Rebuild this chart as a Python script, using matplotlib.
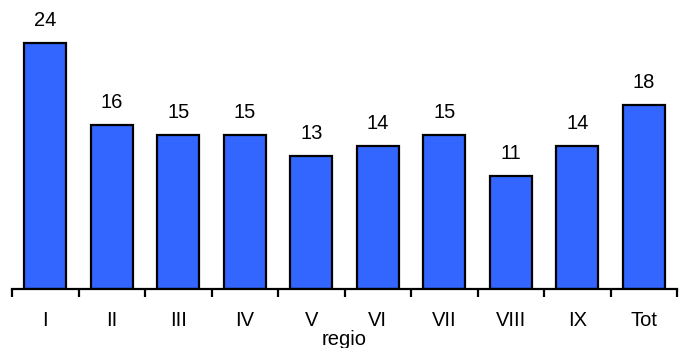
import matplotlib
matplotlib.use("Agg")
import matplotlib.pyplot as plt
import numpy as np

categories = ["I", "II", "III", "IV", "V", "VI", "VII", "VIII", "IX", "Tot"]
values = [24, 16, 15, 15, 13, 14, 15, 11, 14, 18]

plt.rcParams["font.family"] = ["Liberation Sans", "DejaVu Sans"]
FS = 14.5

fig = plt.figure(figsize=(6.86, 3.48), dpi=100)
ax = fig.add_axes([12 / 686, 59 / 348, 665 / 686, 289 / 348])

x = np.arange(len(categories))
ax.bar(x, values, width=0.63, color="#3366FF", edgecolor="black", linewidth=1.6, zorder=2)

for xi, v in zip(x, values):
    ax.text(xi, v + 1.65, f"{v}", ha="center", va="baseline", fontsize=FS)

ax.set_xlim(-0.5, len(categories) - 0.5)
ax.set_ylim(0, 28.2)

for side in ["top", "right", "left"]:
    ax.spines[side].set_visible(False)
ax.spines["bottom"].set_linewidth(1.6)
ax.yaxis.set_visible(False)

ax.set_xticks(np.arange(-0.5, len(categories), 1.0))
ax.set_xticklabels([])
ax.tick_params(axis="x", which="major", direction="out", length=6, width=1.6)
ax.set_xticks(x, minor=True)
ax.set_xticklabels(categories, minor=True, fontsize=FS)
ax.tick_params(axis="x", which="minor", length=0, pad=15.5)

ax.text(0.5, -56 / 289, "regio", transform=ax.transAxes, ha="center", va="baseline", fontsize=FS)

fig.savefig("out.png", dpi=100)
